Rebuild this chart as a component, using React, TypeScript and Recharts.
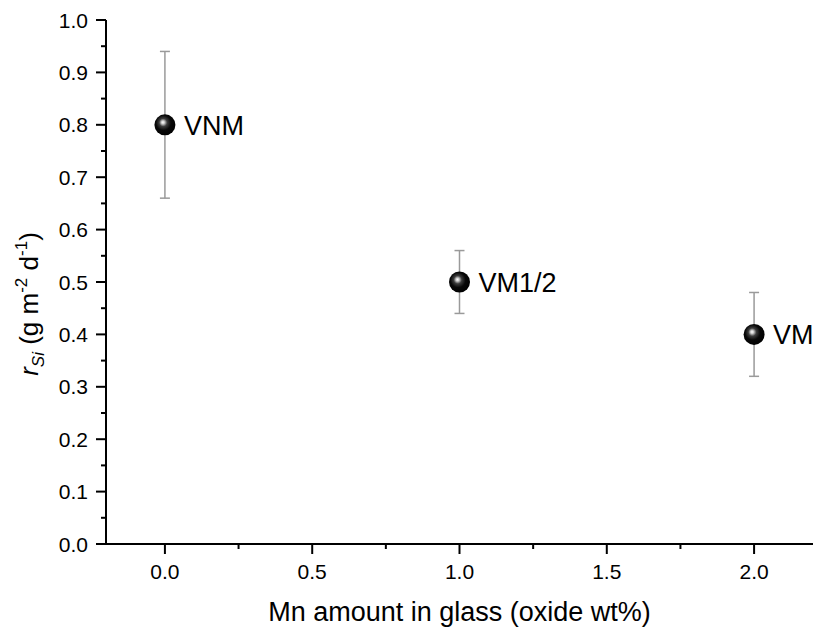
import * as React from 'react'
import { ScatterChart, Scatter, XAxis, YAxis, ErrorBar, Label } from 'recharts'

// sample names, Mn content and dissolution rate
const samples = ['VNM', 'VM1/2', 'VM']
const mnAmount = [0, 1, 2]
const rateSi = [0.8, 0.5, 0.4]
const rateErr = [0.14, 0.06, 0.08]

const xMajorTicks = [0, 0.5, 1, 1.5, 2]
const xMinorTicks = [0.25, 0.75, 1.25, 1.75]
const yMajorTicks = [0, 0.1, 0.2, 0.3, 0.4, 0.5, 0.6, 0.7, 0.8, 0.9, 1.0]
const yMinorTicks = [0.05, 0.15, 0.25, 0.35, 0.45, 0.55, 0.65, 0.75, 0.85, 0.95]

const FONT = '"Liberation Sans", Arial, sans-serif'

const data = samples.map((name, i) => ({
  name,
  x: mnAmount[i],
  y: rateSi[i],
  err: rateErr[i]
}))

const isMajor = (list: number[], v: number) => list.some(t => Math.abs(t - v) < 1e-9)

const YTick = (props: any) => {
  const { x, y, payload } = props
  const major = isMajor(yMajorTicks, payload.value)
  return (
    <g>
      <line x1={x} x2={x - (major ? 10 : 5)} y1={y} y2={y} stroke="#000" strokeWidth={2} />
      {major && (
        <text x={x - 18} y={y} textAnchor="end" dominantBaseline="central" fontSize={21} fontFamily={FONT} fill="#000">
          {payload.value.toFixed(1)}
        </text>
      )}
    </g>
  )
}

const XTick = (props: any) => {
  const { x, y, payload } = props
  const major = isMajor(xMajorTicks, payload.value)
  return (
    <g>
      <line x1={x} x2={x} y1={y} y2={y + (major ? 10 : 5)} stroke="#000" strokeWidth={2} />
      {major && (
        <text x={x} y={y + 35} textAnchor="middle" fontSize={21} fontFamily={FONT} fill="#000">
          {payload.value.toFixed(1)}
        </text>
      )}
    </g>
  )
}

const SpherePoint = (props: any) => {
  const { cx, cy, payload, index } = props
  const id = `sphere-${index}`
  return (
    <g>
      <defs>
        <radialGradient id={id} cx="0.45" cy="0.42" r="0.6" fx="0.4" fy="0.38">
          <stop offset="0%" stopColor="#ffffff" />
          <stop offset="12%" stopColor="#d0d0d0" />
          <stop offset="32%" stopColor="#3c3c3c" />
          <stop offset="60%" stopColor="#080808" />
          <stop offset="100%" stopColor="#000000" />
        </radialGradient>
      </defs>
      <circle cx={cx} cy={cy} r={10.5} fill={`url(#${id})`} />
      <text x={cx + 19} y={cy + 10} fontSize={27} fontFamily={FONT} fill="#000">
        {payload.name}
      </text>
    </g>
  )
}

const YTitle = (props: any) => {
  const vb = props.viewBox || { x: 0, y: 0, width: 0, height: 0 }
  const x = vb.x + 38
  const y = vb.y + vb.height / 2 + 22
  return (
    <text transform={`translate(${x},${y}) rotate(-90)`} textAnchor="middle" fontSize={26} fontFamily={FONT} fill="#000">
      <tspan fontStyle="italic">r</tspan>
      <tspan fontStyle="italic" fontSize={17} dy={6}>Si</tspan>
      <tspan dy={-6}> (g m</tspan>
      <tspan fontSize={17} dy={-11}>-2</tspan>
      <tspan dy={11}> d</tspan>
      <tspan fontSize={17} dy={-11}>-1</tspan>
      <tspan dy={11}>)</tspan>
    </text>
  )
}

export default function App() {
  return (
    <div style={{ position: 'absolute', left: 0, top: 0, background: '#fff' }}>
      <ScatterChart width={817} height={632} margin={{ top: 20, right: 4, left: 0, bottom: 0 }}>
        <XAxis
          type="number"
          dataKey="x"
          domain={[-0.2, 2.2]}
          allowDataOverflow
          ticks={[...xMajorTicks, ...xMinorTicks].sort((a, b) => a - b)}
          interval={0}
          tickSize={0}
          tickMargin={0}
          tickLine={false}
          tick={<XTick />}
          height={88}
          axisLine={{ stroke: '#000', strokeWidth: 2 }}
        >
          <Label
            value="Mn amount in glass (oxide wt%)"
            position="insideBottom"
            offset={11}
            style={{ fontSize: 27, fontFamily: FONT, fill: '#000' }}
          />
        </XAxis>
        <YAxis
          type="number"
          dataKey="y"
          domain={[0, 1]}
          allowDataOverflow
          ticks={[...yMajorTicks, ...yMinorTicks].sort((a, b) => a - b)}
          interval={0}
          tickSize={0}
          tickMargin={0}
          tickLine={false}
          tick={<YTick />}
          width={106}
          axisLine={{ stroke: '#000', strokeWidth: 2 }}
        >
          <Label content={<YTitle />} />
        </YAxis>
        <Scatter data={data} shape={<SpherePoint />} isAnimationActive={false}>
          <ErrorBar dataKey="err" direction="y" width={5} stroke="#9a9a9a" strokeWidth={1.5} />
        </Scatter>
      </ScatterChart>
    </div>
  )
}
